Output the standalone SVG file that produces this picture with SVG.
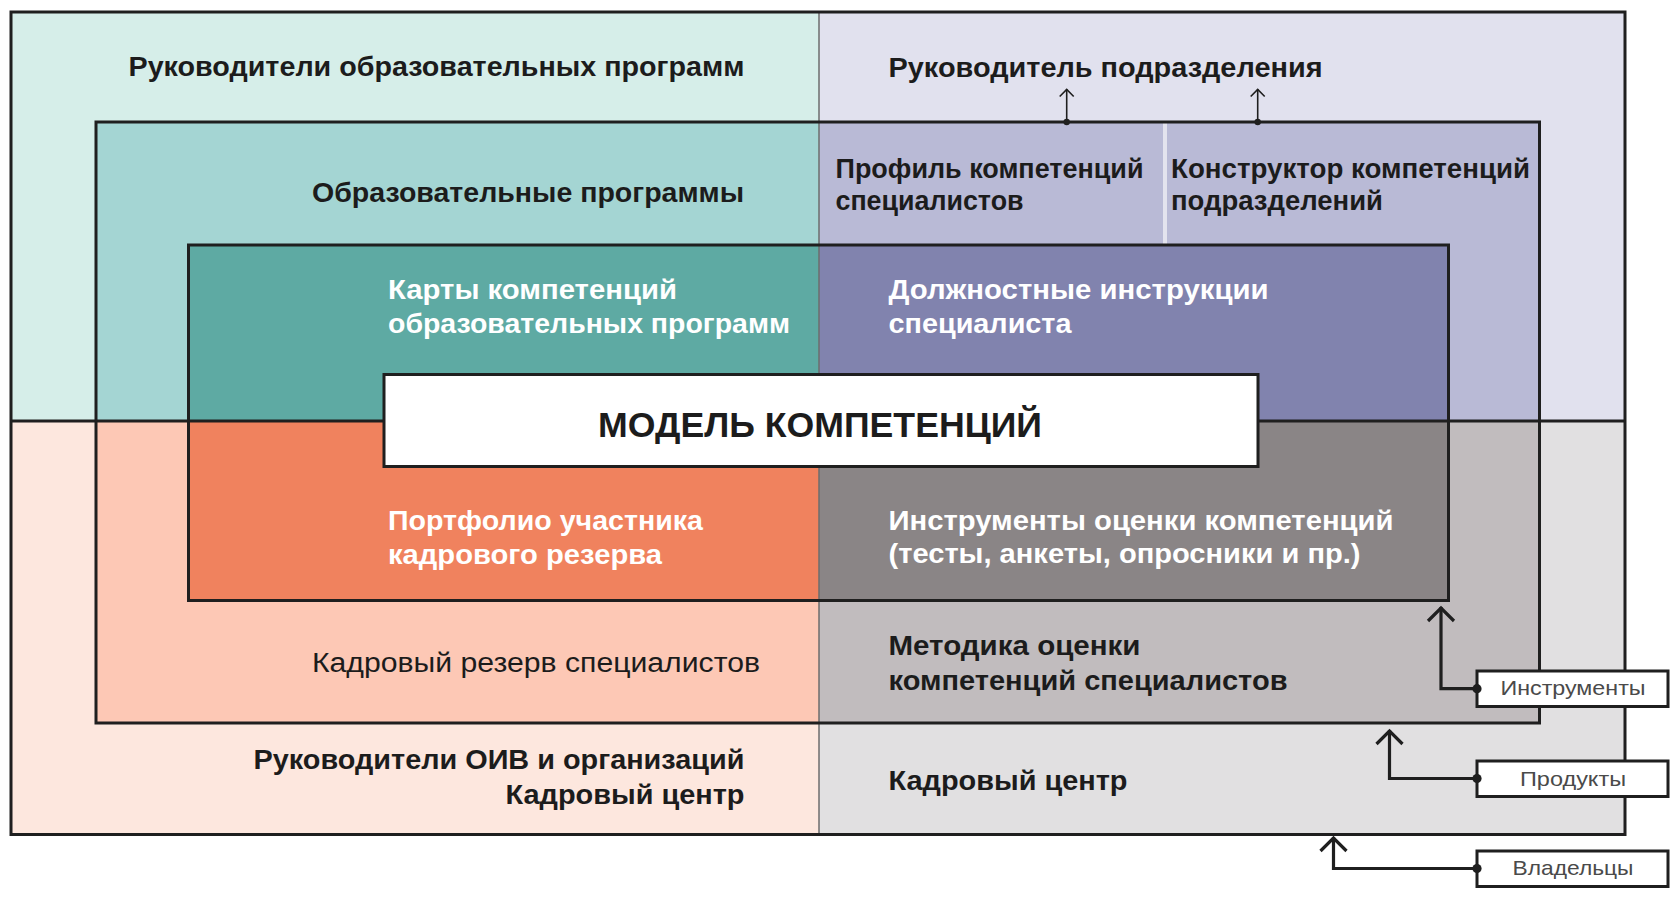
<svg xmlns="http://www.w3.org/2000/svg" width="1680" height="898" viewBox="0 0 1680 898">
<defs>
<style>
.t{font-family:"Liberation Sans",Arial,sans-serif;font-weight:700;font-size:27px;fill:#1c1c1c}
.w{fill:#ffffff}
.r{font-weight:400}
.e{text-anchor:end}
.lbl{font-family:"Liberation Sans",Arial,sans-serif;font-size:21px;fill:#4a4a4a;text-anchor:middle}
.frame{fill:none;stroke:#1f1f1f;stroke-width:3}
.box{fill:#ffffff;stroke:#1f1f1f;stroke-width:3}
.conn{fill:none;stroke:#1f1f1f;stroke-width:3.2}
.connS{fill:none;stroke:#1f1f1f;stroke-width:1.6}
</style>
<marker id="arrowBig" viewBox="0 0 30 30" refX="16" refY="15" markerWidth="30" markerHeight="30" markerUnits="userSpaceOnUse" orient="auto">
<path d="M2,2 L15,15 L2,28" fill="none" stroke="#1f1f1f" stroke-width="3.2"/>
</marker>
<marker id="arrowSm" viewBox="0 0 16 16" refX="8.5" refY="8" markerWidth="16" markerHeight="16" markerUnits="userSpaceOnUse" orient="auto">
<path d="M1,1 L8,8 L1,15" fill="none" stroke="#1f1f1f" stroke-width="1.6"/>
</marker>
<marker id="dotBig" viewBox="0 0 10 10" refX="5" refY="5" markerWidth="10" markerHeight="10" markerUnits="userSpaceOnUse">
<circle cx="5" cy="5" r="4.6" fill="#1f1f1f"/>
</marker>
<marker id="dotSm" viewBox="0 0 8 8" refX="4" refY="4" markerWidth="8" markerHeight="8" markerUnits="userSpaceOnUse">
<circle cx="4" cy="4" r="3.2" fill="#1f1f1f"/>
</marker>
</defs>

<rect width="1680" height="898" fill="#ffffff"/>

<g id="layer-outer">
<rect x="11" y="12" width="808" height="409" fill="#d6eee9"/>
<rect x="819" y="12" width="806" height="409" fill="#e1e1ee"/>
<rect x="11" y="421" width="808" height="413.5" fill="#fde7de"/>
<rect x="819" y="421" width="806" height="413.5" fill="#e1e0e1"/>
</g>
<g id="layer-second">
<rect x="96" y="122" width="723" height="299" fill="#a4d5d3"/>
<rect x="819" y="122" width="720.5" height="299" fill="#b9bad6"/>
<rect x="96" y="421" width="723" height="302" fill="#fdc8b5"/>
<rect x="819" y="421" width="720.5" height="302" fill="#c1bcbe"/>
<line x1="1165" y1="123" x2="1165" y2="245" stroke="#e3e3ee" stroke-width="4"/>
</g>
<g id="layer-third">
<rect x="188.5" y="245" width="630.5" height="176" fill="#5eaaa3"/>
<rect x="819" y="245" width="629.5" height="176" fill="#8183ae"/>
<rect x="188.5" y="421" width="630.5" height="179.5" fill="#f0825e"/>
<rect x="819" y="421" width="629.5" height="179.5" fill="#8a8586"/>
</g>
<g id="frames">
<line x1="819" y1="12" x2="819" y2="834.5" stroke="#6d6d6d" stroke-width="1.5"/>
<line x1="11" y1="421" x2="1625" y2="421" stroke="#1f1f1f" stroke-width="2.8"/>
<rect class="frame" x="11" y="12" width="1614" height="822.5"/>
<rect class="frame" x="96" y="122" width="1443.5" height="601"/>
<rect class="frame" x="188.5" y="245" width="1260" height="355.5"/>
</g>

<g id="node-center">
<rect class="box" x="384" y="374.5" width="874" height="92"/>
<text class="t" x="598" y="436.5" style="font-size:35px" textLength="444" lengthAdjust="spacingAndGlyphs">МОДЕЛЬ КОМПЕТЕНЦИЙ</text>
</g>

<g id="node-ruk-obr"><text class="t e" x="744.5" y="76" textLength="616" lengthAdjust="spacingAndGlyphs">Руководители образовательных программ</text></g>
<g id="node-ruk-podr"><text class="t" x="888.5" y="76.5" textLength="434" lengthAdjust="spacingAndGlyphs">Руководитель подразделения</text></g>
<g id="node-obr-prog"><text class="t e" x="744" y="201.5" textLength="432" lengthAdjust="spacingAndGlyphs">Образовательные программы</text></g>
<g id="node-profil">
<text class="t" x="835.5" y="178" textLength="308" lengthAdjust="spacingAndGlyphs">Профиль компетенций</text>
<text class="t" x="835.5" y="209.5" textLength="188" lengthAdjust="spacingAndGlyphs">специалистов</text>
</g>
<g id="node-konstr">
<text class="t" x="1171" y="178" textLength="359" lengthAdjust="spacingAndGlyphs">Конструктор компетенций</text>
<text class="t" x="1171" y="209.5" textLength="212" lengthAdjust="spacingAndGlyphs">подразделений</text>
</g>
<g id="node-karty">
<text class="t w" x="388" y="299" textLength="289" lengthAdjust="spacingAndGlyphs">Карты компетенций</text>
<text class="t w" x="388" y="333" textLength="402" lengthAdjust="spacingAndGlyphs">образовательных программ</text>
</g>
<g id="node-dolzh">
<text class="t w" x="888.5" y="298.5" textLength="380" lengthAdjust="spacingAndGlyphs">Должностные инструкции</text>
<text class="t w" x="888.5" y="333" textLength="183" lengthAdjust="spacingAndGlyphs">специалиста</text>
</g>
<g id="node-portfolio">
<text class="t w" x="388" y="529.5" textLength="315" lengthAdjust="spacingAndGlyphs">Портфолио участника</text>
<text class="t w" x="388" y="564" textLength="274" lengthAdjust="spacingAndGlyphs">кадрового резерва</text>
</g>
<g id="node-instr-ocenki">
<text class="t w" x="888.5" y="529.5" textLength="505" lengthAdjust="spacingAndGlyphs">Инструменты оценки компетенций</text>
<text class="t w" x="888.5" y="562.5" textLength="472" lengthAdjust="spacingAndGlyphs">(тесты, анкеты, опросники и пр.)</text>
</g>
<g id="node-rezerv"><text class="t r" x="312" y="671.5" textLength="448" lengthAdjust="spacingAndGlyphs">Кадровый резерв специалистов</text></g>
<g id="node-metodika">
<text class="t" x="888.5" y="655" textLength="252" lengthAdjust="spacingAndGlyphs">Методика оценки</text>
<text class="t" x="888.5" y="689.5" textLength="399" lengthAdjust="spacingAndGlyphs">компетенций специалистов</text>
</g>
<g id="node-ruk-oiv">
<text class="t e" x="744.5" y="768.5" textLength="491" lengthAdjust="spacingAndGlyphs">Руководители ОИВ и организаций</text>
<text class="t e" x="744.5" y="803.5" textLength="239" lengthAdjust="spacingAndGlyphs">Кадровый центр</text>
</g>
<g id="node-kadr-centr"><text class="t" x="888.5" y="789.5" textLength="239" lengthAdjust="spacingAndGlyphs">Кадровый центр</text></g>

<g id="node-instrumenty">
<rect class="box" x="1477" y="671" width="191" height="35.5"/>
<text class="lbl" x="1573" y="694.5" textLength="145" lengthAdjust="spacingAndGlyphs">Инструменты</text>
</g>
<g id="node-produkty">
<rect class="box" x="1477" y="761" width="191" height="35.5"/>
<text class="lbl" x="1573" y="785.5" textLength="106" lengthAdjust="spacingAndGlyphs">Продукты</text>
</g>
<g id="node-vladelcy">
<rect class="box" x="1477" y="851" width="191" height="35.5"/>
<text class="lbl" x="1573" y="875" textLength="121" lengthAdjust="spacingAndGlyphs">Владельцы</text>
</g>

<g id="connectors">
<path class="connS" d="M1066.7,122 V89" marker-start="url(#dotSm)" marker-end="url(#arrowSm)"/>
<path class="connS" d="M1257.7,122 V89" marker-start="url(#dotSm)" marker-end="url(#arrowSm)"/>
<path class="conn" d="M1477,688.7 H1441 V607" marker-start="url(#dotBig)" marker-end="url(#arrowBig)"/>
<path class="conn" d="M1477,778.5 H1389.5 V730" marker-start="url(#dotBig)" marker-end="url(#arrowBig)"/>
<path class="conn" d="M1477,868.5 H1333.5 V837" marker-start="url(#dotBig)" marker-end="url(#arrowBig)"/>
</g>
</svg>
